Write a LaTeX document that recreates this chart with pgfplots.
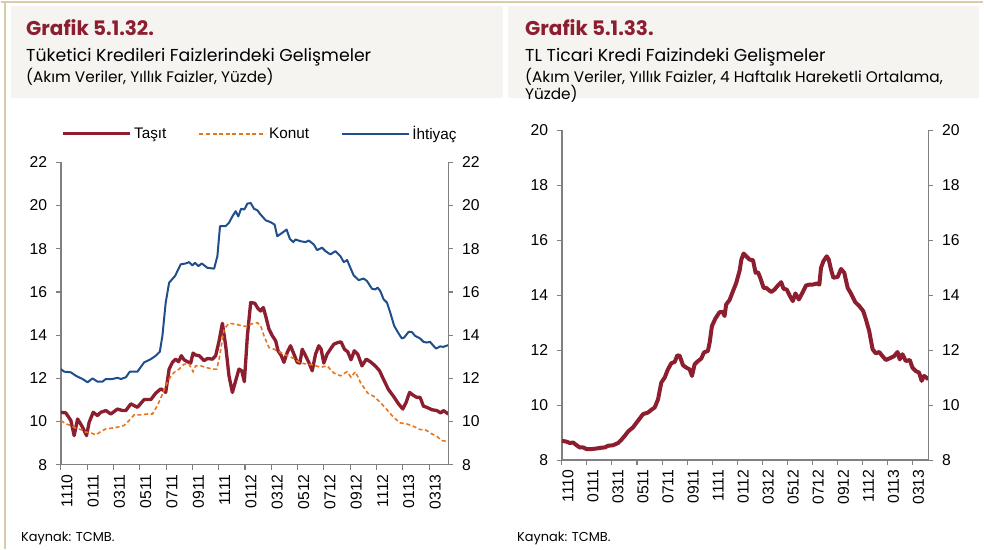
\documentclass[border=0pt]{standalone}
\usepackage{pgfplots}
\pgfplotsset{compat=1.18}
\usepackage{fontspec}
\setmainfont{Poppins}
\newfontfamily\arialf{Liberation Sans}
\definecolor{maroon}{RGB}{140,30,48}
\definecolor{tblue}{RGB}{31,78,140}
\definecolor{torange}{RGB}{232,118,26}
\definecolor{hdrgray}{RGB}{245,244,240}
\definecolor{frametan}{RGB}{216,204,170}
\definecolor{axgray}{RGB}{128,128,128}

\pgfplotstableread{
x y
0 10.43
0.38 10.40
0.76 10.05
1.01 9.35
1.27 10.12
1.65 9.74
1.95 9.35
2.15 9.97
2.46 10.43
2.78 10.28
3.04 10.43
3.42 10.51
3.80 10.35
4.30 10.58
4.68 10.51
4.94 10.51
5.32 10.82
5.82 10.66
6.33 11.02
6.84 11.02
7.22 11.32
7.59 11.51
7.85 11.43
7.97 11.35
8.23 12.43
8.48 12.74
8.73 12.89
8.94 12.77
9.16 13.05
9.37 12.86
9.62 12.77
9.87 12.71
10.05 13.17
10.25 13.08
10.51 13.05
10.89 12.82
11.14 12.92
11.52 12.89
11.77 13.05
12.03 13.74
12.28 14.55
12.53 13.51
12.78 12.12
13.04 11.35
13.29 11.89
13.54 12.43
13.75 12.35
13.95 11.85
14.18 13.97
14.43 15.51
14.74 15.48
14.99 15.23
15.19 15.12
15.39 15.28
15.57 14.89
15.82 14.28
16.08 13.97
16.33 13.74
16.51 13.28
16.76 13.05
16.96 12.74
17.21 13.20
17.46 13.51
17.72 13.12
17.97 12.74
18.17 12.71
18.35 13.35
18.60 13.05
18.85 12.74
19.11 12.35
19.36 13.12
19.61 13.51
19.79 13.35
19.99 12.71
20.24 13.12
20.49 13.35
20.75 13.58
21.05 13.66
21.30 13.69
21.56 13.35
21.81 13.23
22.06 12.86
22.31 13.28
22.57 13.12
22.89 12.58
23.22 12.89
23.53 12.77
23.90 12.58
24.23 12.35
24.54 11.94
24.91 11.48
25.29 11.17
25.67 10.82
26.00 10.58
26.25 10.89
26.51 11.35
26.76 11.23
27.06 11.12
27.31 11.12
27.57 10.71
27.82 10.66
28.20 10.55
28.58 10.51
28.88 10.40
29.08 10.51
29.46 10.35
}\tasit

\pgfplotstableread{
x y
0 10.05
0.38 9.89
0.76 9.82
1.14 9.69
1.52 9.63
1.90 9.51
2.28 9.48
2.66 9.38
3.04 9.54
3.42 9.66
3.80 9.69
4.30 9.74
4.81 9.82
5.19 10.05
5.57 10.31
6.08 10.31
6.58 10.35
6.96 10.35
7.34 10.74
7.67 11.20
7.97 11.66
8.23 11.97
8.61 12.28
8.99 12.43
9.37 12.66
9.75 12.66
10.05 12.31
10.25 12.58
10.63 12.58
11.01 12.51
11.52 12.43
11.85 12.43
12.03 12.89
12.41 14.28
12.78 14.55
13.29 14.51
13.80 14.43
14.18 14.40
14.43 14.51
14.94 14.58
15.19 14.43
15.44 13.97
15.82 13.43
16.20 13.35
16.71 13.20
17.21 13.05
17.72 12.92
18.22 12.71
18.73 12.66
19.23 12.62
19.74 12.51
20.24 12.58
20.75 12.25
21.25 12.12
21.76 12.31
22.06 12.05
22.39 12.31
22.77 11.82
23.32 11.32
23.78 11.17
24.28 10.89
24.79 10.55
25.29 10.20
25.80 9.94
26.30 9.89
26.81 9.78
27.31 9.63
27.69 9.63
28.20 9.43
28.58 9.32
28.95 9.12
29.46 9.08
}\konut

\pgfplotstableread{
x y
0 12.43
0.25 12.31
0.76 12.28
1.14 12.12
1.65 11.97
2.03 11.82
2.41 12.00
2.78 11.85
3.16 11.85
3.42 11.97
3.92 11.97
4.30 12.03
4.56 11.97
4.94 12.05
5.24 12.31
5.82 12.31
6.33 12.74
6.84 12.89
7.22 13.05
7.52 13.23
7.72 13.97
7.97 15.51
8.23 16.43
8.68 16.74
9.11 17.28
9.49 17.32
9.75 17.38
10.00 17.23
10.20 17.35
10.46 17.20
10.71 17.32
11.14 17.12
11.65 17.08
11.90 17.66
12.10 19.05
12.53 19.05
12.78 19.20
13.04 19.50
13.29 19.74
13.49 19.50
13.70 19.85
13.95 19.82
14.18 20.09
14.43 20.12
14.69 19.85
14.94 19.78
15.19 19.58
15.57 19.32
15.95 19.23
16.25 19.12
16.45 18.58
16.83 18.74
17.16 18.89
17.41 18.46
17.67 18.31
17.84 18.43
18.22 18.35
18.60 18.31
18.85 18.38
19.23 18.20
19.48 17.94
19.86 18.05
20.12 17.89
20.49 17.74
20.87 17.89
21.25 17.66
21.51 17.38
21.76 17.48
22.01 17.12
22.26 16.77
22.64 16.55
23.02 16.62
23.27 16.51
23.65 16.15
23.90 16.12
24.08 16.20
24.28 16.05
24.54 15.66
24.79 15.51
25.04 15.05
25.34 14.43
25.67 14.09
25.92 13.85
26.10 13.89
26.43 14.15
26.68 14.15
26.93 13.97
27.31 13.85
27.57 13.69
27.82 13.66
28.07 13.69
28.32 13.51
28.53 13.38
28.83 13.48
29.08 13.46
29.46 13.54
}\ihtiyac

\pgfplotstableread{
x y
0 8.70
0.37 8.67
0.64 8.62
0.90 8.64
1.17 8.54
1.43 8.46
1.70 8.46
1.97 8.40
2.36 8.40
2.76 8.42
3.16 8.45
3.43 8.46
3.69 8.52
4.09 8.54
4.49 8.62
4.76 8.74
5.02 8.88
5.29 9.04
5.68 9.19
6.08 9.43
6.48 9.67
6.88 9.73
7.15 9.83
7.41 9.91
7.68 10.21
7.94 10.82
8.21 11.00
8.47 11.30
8.74 11.52
9.01 11.57
9.22 11.81
9.41 11.79
9.67 11.45
9.94 11.36
10.20 11.30
10.39 11.06
10.60 11.48
10.87 11.60
11.13 11.69
11.34 11.91
11.66 11.97
11.80 12.27
11.98 12.87
12.25 13.14
12.59 13.38
12.86 13.38
12.99 13.24
13.12 13.66
13.39 13.82
13.66 14.14
13.92 14.44
14.20 14.90
14.33 15.29
14.51 15.51
14.73 15.41
14.99 15.29
15.26 15.27
15.47 14.81
15.66 14.83
15.84 14.63
16.11 14.26
16.32 14.26
16.72 14.11
16.98 14.20
17.25 14.35
17.51 14.47
17.70 14.23
17.96 14.20
18.18 13.99
18.44 13.78
18.65 14.06
18.92 13.84
19.24 14.11
19.50 14.35
19.77 14.38
20.03 14.38
20.35 14.42
20.56 14.38
20.69 14.99
20.88 15.23
21.15 15.41
21.31 15.29
21.49 14.93
21.68 14.63
22.02 14.66
22.29 14.95
22.55 14.81
22.82 14.26
23.08 14.06
23.43 13.74
23.75 13.60
24.06 13.42
24.28 13.11
24.54 12.69
24.81 12.03
25.07 11.88
25.34 11.93
25.60 11.78
25.87 11.64
26.27 11.72
26.53 11.78
26.80 11.93
26.98 11.66
27.19 11.85
27.46 11.60
27.78 11.64
27.99 11.36
28.25 11.24
28.52 11.18
28.73 10.88
28.92 11.06
29.10 11.00
29.26 10.94
}\ticari

\pgfplotsset{
  common/.style={
    scale only axis,
    anchor=south west,
    xmin=0,
    axis line style={draw=axgray, line width=1pt, -},
    tick style={draw=axgray, line width=0.8pt},
    tick align=outside,
    major tick length=3.75pt,
    /pgf/number format/assume math mode=true,
    tick label style={font=\arialf\fontsize{11.8}{13}\selectfont, text=black},
    x tick label style={rotate=90, anchor=east, font=\arialf\fontsize{11.8}{13}\selectfont},
    xtick={0,2,...,28},
    xticklabels={1110,0111,0311,0511,0711,0911,1111,0112,0312,0512,0712,0912,1112,0113,0313},
  },
  lefty/.style={y tick label style={xshift=-3pt}},
  righty/.style={y tick label style={xshift=3pt}},
  xlab/.style={x tick label style={yshift=-4.5pt}},
}

\begin{document}
\begin{tikzpicture}
\fill[white] (0pt,0pt) rectangle (738pt,-412.5pt);
\draw[frametan, line width=1.5pt] (0pt,-1.2pt) -- (738pt,-1.2pt);
\draw[frametan, line width=1.5pt] (3.3pt,-1.2pt) -- (3.3pt,-412.5pt);
\fill[hdrgray] (7.5pt,-4.5pt) rectangle (377.25pt,-73.5pt);
\fill[hdrgray] (380.8pt,-4.5pt) rectangle (735pt,-73.5pt);

\node[anchor=base west, inner sep=0pt, text=maroon, font=\bfseries\fontsize{15}{17}\selectfont] at (18.75pt,-27pt) {Grafik 5.1.32.};
\node[anchor=base west, inner sep=0pt, font=\fontsize{13}{15}\selectfont] at (18.75pt,-46.5pt) {Tüketici Kredileri Faizlerindeki Gelişmeler};
\node[anchor=base west, inner sep=0pt, font=\fontsize{11.5}{13}\selectfont] at (18.75pt,-61.9pt) {(Akım Veriler, Yıllık Faizler, Yüzde)};

\node[anchor=base west, inner sep=0pt, text=maroon, font=\bfseries\fontsize{15}{17}\selectfont] at (393.75pt,-27pt) {Grafik 5.1.33.};
\node[anchor=base west, inner sep=0pt, font=\fontsize{13}{15}\selectfont] at (393.75pt,-46.5pt) {TL Ticari Kredi Faizindeki Gelişmeler};
\node[anchor=base west, inner sep=0pt, font=\fontsize{11.5}{13}\selectfont] at (393.75pt,-61.9pt) {(Akım Veriler, Yıllık Faizler, 4 Haftalık Hareketli Ortalama,};
\node[anchor=base west, inner sep=0pt, font=\fontsize{11.5}{13}\selectfont] at (393.75pt,-75pt) {Yüzde)};

\node[anchor=base west, inner sep=0pt, font=\fontsize{9.7}{11}\selectfont] at (15pt,-407pt) {Kaynak: TCMB.};
\node[anchor=base west, inner sep=0pt, font=\fontsize{9.7}{11}\selectfont] at (387.75pt,-407pt) {Kaynak: TCMB.};

% ---------- left panel ----------
\begin{axis}[common, lefty, xlab,
  at={(45pt,-349.28pt)}, width=291.2pt, height=227.25pt,
  xmax=29.46, ymin=8, ymax=22, ytick={8,10,...,22},
  axis x line*=bottom, axis y line*=left,
  tick align=outside,
  legend columns=3,
  legend style={at={(0.515,1.0947)}, anchor=center, draw=none, fill=none,
    font=\arialf\fontsize{11.5}{13}\selectfont,
    /tikz/every even column/.append style={column sep=22pt}},
  legend image code/.code={\draw[#1] (0pt,0pt) -- (50pt,0pt);},
]
\addplot[maroon, line width=2.5pt, line join=round] table[x=x,y=y]{\tasit};
\addlegendentry{Taşıt}
\addplot[torange, line width=1.2pt, dash pattern=on 3pt off 2pt] table[x=x,y=y]{\konut};
\addlegendentry{Konut}
\addplot[tblue, line width=1.5pt, line join=round] table[x=x,y=y]{\ihtiyac};
\addlegendentry{İhtiyaç}
\end{axis}
\begin{axis}[common, righty,
  at={(45pt,-349.28pt)}, width=291.2pt, height=227.25pt,
  xmax=29.46, ymin=8, ymax=22, ytick={8,10,...,22},
  axis y line*=right, axis x line=none, xtick=\empty,
  tick align=outside,
]
\end{axis}

% ---------- right panel ----------
\begin{axis}[common, lefty, xlab,
  at={(421.5pt,-345.75pt)}, width=275.5pt, height=248pt,
  xmax=29.27, ymin=8, ymax=20, ytick={8,10,...,20},
  axis x line*=bottom, axis y line*=left,
  tick align=outside,
]
\addplot[maroon, line width=3pt, line join=round] table[x=x,y=y]{\ticari};
\end{axis}
\begin{axis}[common, righty,
  at={(421.5pt,-345.75pt)}, width=275.5pt, height=248pt,
  xmax=29.27, ymin=8, ymax=20, ytick={8,10,...,20},
  axis y line*=right, axis x line=none, xtick=\empty,
  tick align=outside,
]
\end{axis}
\end{tikzpicture}
\end{document}
